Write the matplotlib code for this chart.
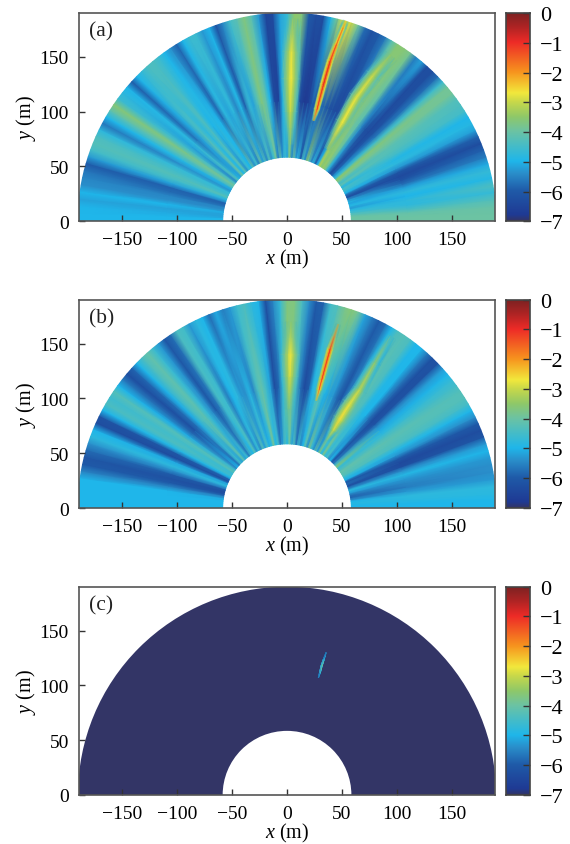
import numpy as np
import matplotlib
matplotlib.use("Agg")
import matplotlib.pyplot as plt
from matplotlib.colors import LinearSegmentedColormap, Normalize
from matplotlib.patches import Wedge

plt.rcParams['font.family'] = ['Liberation Serif', 'DejaVu Serif']
plt.rcParams['mathtext.fontset'] = 'custom'
plt.rcParams['mathtext.rm'] = 'Liberation Serif'
plt.rcParams['mathtext.it'] = 'Liberation Serif:italic'

# angle nodes in degrees from +x, one value every 2 degrees
angles = np.arange(0, 181, 2)
radii = [58.5, 110, 190]

a_outer = [-4.0, -4.0, -4.05, -4.3, -4.7, -4.4, -4.9, -4.7, -5.1, -5.6, -5.9, -6.3, -5.9, -5.2, -4.9, -5.0,
           -4.5, -4.4, -4.3, -3.9, -3.9, -4.6, -5.8, -6.3, -6.3, -5.2, -5.6, -3.8, -3.6, -3.6, -4.3, -5.7,
           -6.0, -6.2, -5.8, -4.0, -3.0, -2.8, -3.8, -5.0, -6.3, -6.3, -6.0, -3.6, -3.5, -4.7,
           -5.2, -6.4, -6.5, -5.3, -4.2, -3.7, -4.2, -4.5, -5.5, -6.2, -5.0, -5.3, -4.6, -4.6, -5.0, -5.9,
           -5.4, -5.0, -4.6, -4.4, -4.4, -4.7, -5.0, -6.0, -5.0, -4.8, -4.6, -3.6, -4.2, -5.0, -5.7, -4.8,
           -4.4, -4.3, -4.5, -5.3, -6.0, -5.7, -5.5, -5.4, -5.0, -5.2, -5.0, -5.0, -5.0]
a_mid = [-4.0, -4.0, -4.1, -4.5, -4.8, -4.8, -5.0, -4.8, -5.2, -5.8, -6.2, -6.4, -6.1, -5.3, -4.8, -4.9,
         -4.5, -4.3, -4.2, -3.9, -3.7, -4.5, -5.7, -6.2, -6.4, -6.2, -5.5, -4.2, -3.9, -3.6, -3.5, -5.5,
         -6.2, -6.4, -6.3, -6.2, -5.9, -5.8, -6.0, -6.0, -6.7, -6.8, -6.4, -4.7, -3.8, -4.5,
         -5.0, -6.6, -6.4, -5.0, -4.1, -3.7, -4.3, -5.2, -4.7, -5.9, -4.9, -5.5, -4.8, -5.2, -4.8, -5.8,
         -5.0, -4.9, -5.0, -4.4, -4.8, -4.4, -5.2, -5.7, -4.8, -5.2, -4.5, -3.8, -4.2, -4.9, -5.4, -4.7,
         -4.5, -4.3, -4.5, -5.2, -5.9, -5.8, -5.5, -5.4, -5.0, -5.2, -5.1, -5.0, -5.0]
a_inner = [-4.0, -4.0, -4.0, -4.2, -4.5, -4.8, -5.3, -4.9, -5.1, -4.9, -5.4, -6.2, -5.8, -5.0, -4.6, -4.4,
           -4.9, -4.2, -4.5, -3.9, -3.5, -4.6, -5.2, -5.9, -6.3, -5.6, -4.8, -3.8, -3.4, -3.6, -3.2, -5.0,
           -5.9, -4.8, -5.4, -4.2, -3.6, -5.4, -4.5, -6.0, -4.8, -5.2, -4.1, -5.5, -3.7, -5.2,
           -4.6, -5.2, -4.2, -5.6, -3.9, -4.7, -5.4, -4.3, -5.5, -4.4, -5.3, -4.1, -5.6, -4.5, -5.4, -4.2,
           -5.0, -4.6, -5.4, -4.2, -5.0, -4.0, -5.2, -4.9, -4.3, -5.5, -4.4, -4.0, -4.3, -5.1, -5.3, -4.7,
           -4.6, -4.3, -4.8, -5.3, -5.9, -5.8, -5.5, -5.4, -5.1, -5.2, -5.2, -5.0, -5.0]

b_outer = [-5.0, -5.0, -4.85, -4.8, -5.3, -5.4, -5.4, -5.3, -5.0, -5.3, -6.1, -6.3, -6.0, -5.4, -5.0, -4.5,
           -4.3, -4.3, -4.5, -4.7, -5.0, -5.3, -6.2, -6.2, -5.6, -5.0, -5.0, -4.4, -4.3, -4.4, -5.0, -5.8,
           -6.0, -5.6, -5.2, -3.9, -3.6, -3.8, -4.3, -4.5, -5.9, -6.0, -5.4, -4.4, -3.7, -3.7,
           -4.7, -5.5, -6.3, -5.0, -4.8, -4.4, -4.6, -5.3, -5.6, -5.1, -5.8, -5.0, -4.8, -5.3, -4.5, -4.4,
           -5.8, -6.1, -5.3, -4.6, -4.1, -4.4, -5.0, -5.9, -6.3, -5.6, -5.0, -4.3, -4.6, -4.4, -5.0, -6.2,
           -6.3, -5.0, -4.8, -5.4, -5.8, -6.1, -6.0, -5.5, -5.0, -5.0, -5.0, -5.0, -5.0]
b_mid = [-5.0, -5.0, -4.85, -4.8, -5.3, -5.6, -5.5, -5.3, -4.9, -5.4, -6.3, -6.4, -6.0, -5.3, -4.9, -4.4,
         -4.3, -4.2, -4.4, -4.8, -5.1, -5.4, -6.2, -6.3, -5.7, -5.0, -4.9, -4.4, -4.2, -4.0, -4.4, -5.6,
         -6.1, -5.8, -5.3, -5.2, -5.0, -4.2, -4.6, -5.0, -6.0, -6.4, -5.7, -4.4, -3.8, -3.5,
         -4.7, -5.9, -6.3, -5.2, -4.5, -4.1, -4.4, -5.5, -4.9, -5.4, -5.3, -4.8, -5.0, -5.6, -4.6, -4.5,
         -5.7, -6.0, -5.4, -4.7, -4.2, -4.4, -5.1, -5.8, -6.2, -5.8, -5.1, -4.3, -4.5, -4.4, -4.9, -6.1,
         -6.3, -5.1, -4.8, -5.4, -6.0, -6.2, -6.0, -5.5, -5.0, -5.0, -5.0, -5.0, -5.0]
b_inner = [-5.0, -5.0, -4.9, -5.0, -5.6, -5.9, -5.7, -5.2, -4.8, -5.6, -6.2, -5.8, -6.0, -5.0, -4.7, -4.3,
           -4.2, -4.1, -4.4, -4.6, -3.6, -4.4, -5.6, -6.0, -5.0, -5.4, -4.4, -4.8, -3.8, -5.0, -3.8, -5.2,
           -4.2, -5.3, -4.6, -3.8, -5.4, -4.2, -5.0, -5.5, -4.6, -5.6, -4.4, -5.2, -4.0, -5.0,
           -4.4, -5.2, -5.6, -4.5, -5.0, -3.9, -4.9, -5.0, -4.4, -5.2, -4.3, -5.5, -4.6, -5.3, -4.3, -5.0,
           -4.6, -5.5, -4.6, -5.2, -4.2, -5.2, -4.5, -5.6, -5.0, -5.4, -4.5, -4.3, -4.7, -4.6, -5.0, -5.9,
           -6.2, -5.2, -4.8, -5.4, -6.1, -6.3, -6.1, -5.5, -5.1, -5.0, -5.0, -5.0, -5.0]

# narrow off-radial features: centre line (m), peak value, half width (m)
a_red_x = [24, 27, 33, 39, 45, 51, 53.5]
a_red_y = [91.7, 102, 125, 146, 162, 177, 183]
a_red_v = [-2.6, -1.3, -0.9, -1.0, -1.5, -2.0, -2.6]
a_red_w = [2, 3, 3.5, 3.5, 3.5, 3.5, 3.5]
a_yel1_x = [3, 3, 3.5, 4, 5]
a_yel1_y = [70, 100, 130, 155, 185]
a_yel1_v = [-3.6, -3.0, -2.7, -2.8, -3.4]
a_yel1_w = [5, 7, 9, 9, 8]
a_yel2_x = [36, 50, 63, 78, 94]
a_yel2_y = [66, 90, 113, 133, 152]
a_yel2_v = [-3.2, -2.7, -2.8, -3.0, -3.4]
a_yel2_w = [4, 7, 8, 8, 8]

b_red_x = [26.4, 29, 31.5, 39, 46.6]
b_red_y = [97.8, 108, 117.6, 145, 167.7]
b_red_v = [-2.9, -1.6, -1.2, -1.1, -3.0]
b_red_w = [2, 3, 3, 3.5, 2.5]
b_yel1_x = [2, 2.5, 3, 3.5]
b_yel1_y = [90, 120, 140, 170]
b_yel1_v = [-3.5, -2.9, -2.7, -3.5]
b_yel1_w = [5, 8, 9, 8]
b_yel2_x = [36, 42, 48, 57, 66, 80, 94]
b_yel2_y = [62, 71, 81, 95, 108, 133, 157]
b_yel2_v = [-3.8, -3.0, -2.6, -2.8, -3.1, -3.6, -3.9]
b_yel2_w = [3, 5, 7, 8, 7, 6, 6]

c_x = [28.5, 30, 31.5, 33.5, 35.5]
c_y = [107, 112, 118, 124, 130]
c_v = [-5.2, -4.4, -3.5, -4.4, -5.3]
c_w = [0.4, 0.7, 0.8, 0.7, 0.4]
background_c = -7

cbar_ticks = [0, -1, -2, -3, -4, -5, -6, -7]
x_ticks = [-150, -100, -50, 0, 50, 100, 150]
y_ticks = [0, 50, 100, 150]

stops = [(-7, "#333566"), (-6.8, "#1f3a94"), (-6, "#1f5aa8"), (-5.4, "#2a8fcb"), (-5, "#1fb6ea"),
         (-4.5, "#45bcc8"), (-4, "#6cc3a3"), (-3.5, "#8fc868"), (-3, "#c8d84a"), (-2.7, "#f2e83c"),
         (-2, "#f7941e"), (-1, "#ee2b27"), (-0.5, "#b02424"), (0, "#7b2222")]
cmap = LinearSegmentedColormap.from_list("field", [((v + 7) / 7, c) for v, c in stops], N=512)
norm = Normalize(-7, 0)

W, H = 570, 845


def px_axes(left, top, right, bottom):
    return plt.gcf().add_axes([left / W, 1 - bottom / H, (right - left) / W, (bottom - top) / H])


def draw_fan(ax, inner, mid, outer):
    th = np.radians(angles)
    X = np.array([r * np.cos(th) for r in radii])
    Y = np.array([r * np.sin(th) for r in radii])
    ax.pcolormesh(X, Y, np.array([inner, mid, outer]), cmap=cmap, norm=norm, shading="gouraud")


def draw_streak(ax, xs, ys, vs, ws, drop=2.6):
    xs, ys, vs, ws = map(np.asarray, (xs, ys, vs, ws))
    dx, dy = np.gradient(xs), np.gradient(ys)
    n = np.hypot(dx, dy)
    nx, ny = -dy / n, dx / n
    off = np.array([-1, -0.6, -0.3, 0, 0.3, 0.6, 1])
    fall = np.array([1, 0.75, 0.35, 0, 0.35, 0.75, 1])
    alpha = np.array([0, 0.85, 1, 1, 1, 0.85, 0])
    X = xs[:, None] + nx[:, None] * ws[:, None] * off
    Y = ys[:, None] + ny[:, None] * ws[:, None] * off
    rgba = cmap(norm(vs[:, None] - drop * fall))
    rgba[..., 3] = alpha
    rgba[0, :, 3] = 0
    rgba[-1, :, 3] = 0
    ax.pcolormesh(X, Y, rgba, shading="gouraud")


def style_axes(ax, label):
    ax.set_xlim(-189.5, 189)
    ax.set_ylim(0, 190)
    ax.set_xticks(x_ticks)
    ax.set_yticks(y_ticks)
    ax.tick_params(direction="in", length=4.5, width=1.0, color="#333333", labelsize=14, pad=7)
    for s in ax.spines.values():
        s.set_linewidth(1.2)
        s.set_color("#555555")
    ax.set_xlabel("$x$ (m)", fontsize=14.5, labelpad=-0.5)
    ax.set_ylabel("$y$ (m)", fontsize=14.5, labelpad=1)
    ax.text(0.026, 0.915, label, transform=ax.transAxes, fontsize=15.5, va="center", color="#222222")


def add_cbar(top, bottom):
    cax = px_axes(506, top, 530, bottom)
    g = np.linspace(0, -7, 256)[:, None]
    cax.imshow(g, aspect="auto", cmap=cmap, norm=norm, extent=[0, 1, -7, 0])
    cax.set_xticks([])
    cax.yaxis.tick_right()
    cax.set_yticks(cbar_ticks)
    cax.tick_params(direction="in", length=5, width=1.0, color="#333333", labelsize=16, pad=7)
    for s in cax.spines.values():
        s.set_linewidth(1.2)
        s.set_color("#444444")


fig = plt.figure(figsize=(W / 100, H / 100), dpi=100)

ax1 = px_axes(78.5, 14, 495, 222.3)
draw_fan(ax1, a_inner, a_mid, a_outer)
draw_streak(ax1, a_yel1_x, a_yel1_y, a_yel1_v, a_yel1_w, drop=1.5)
draw_streak(ax1, a_yel2_x, a_yel2_y, a_yel2_v, a_yel2_w, drop=1.5)
draw_streak(ax1, a_red_x, a_red_y, a_red_v, a_red_w)
style_axes(ax1, "(a)")
add_cbar(14, 222.3)

ax2 = px_axes(78.5, 300.7, 495, 509)
draw_fan(ax2, b_inner, b_mid, b_outer)
draw_streak(ax2, b_yel1_x, b_yel1_y, b_yel1_v, b_yel1_w, drop=1.5)
draw_streak(ax2, b_yel2_x, b_yel2_y, b_yel2_v, b_yel2_w, drop=1.5)
draw_streak(ax2, b_red_x, b_red_y, b_red_v, b_red_w)
style_axes(ax2, "(b)")
add_cbar(300.7, 509)

ax3 = px_axes(78.5, 587.7, 495, 796)
ax3.add_patch(Wedge((0, 0), 190, 0, 180, width=131.5, facecolor=cmap(norm(background_c)), edgecolor="none"))
draw_streak(ax3, c_x, c_y, c_v, c_w, drop=1.4)
style_axes(ax3, "(c)")
add_cbar(587.7, 796)

fig.savefig("out.png", dpi=100)
